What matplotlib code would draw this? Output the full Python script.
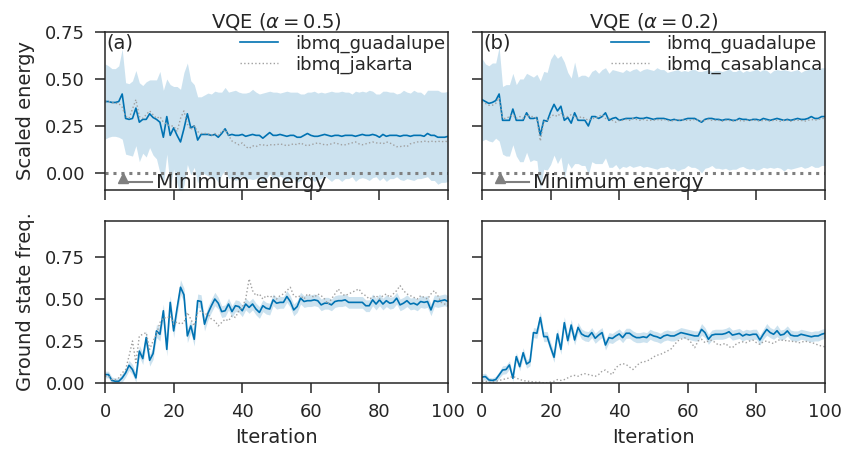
import matplotlib
import matplotlib.pyplot as plt
import numpy as np

matplotlib.use('Agg')

iterations = np.arange(101)

# scaled energy, alpha = 0.5
energy_guadalupe_a = [
    0.38, 0.38, 0.375, 0.375, 0.38, 0.42, 0.29, 0.285, 0.29, 0.345,
    0.27, 0.285, 0.285, 0.315, 0.295, 0.285, 0.27, 0.19, 0.30, 0.20,
    0.24, 0.20, 0.165, 0.235, 0.315, 0.24, 0.25, 0.175, 0.205, 0.205,
    0.205, 0.20, 0.205, 0.19, 0.21, 0.235, 0.20, 0.205, 0.20, 0.20,
    0.205, 0.195, 0.20, 0.205, 0.20, 0.20, 0.185, 0.20, 0.215, 0.20,
    0.20, 0.205, 0.20, 0.195, 0.20, 0.20, 0.19, 0.19, 0.20, 0.21,
    0.20, 0.195, 0.195, 0.20, 0.205, 0.20, 0.195, 0.20, 0.20, 0.195,
    0.20, 0.20, 0.20, 0.195, 0.20, 0.205, 0.20, 0.20, 0.205, 0.20,
    0.19, 0.205, 0.195, 0.20, 0.20, 0.20, 0.195, 0.20, 0.20, 0.195,
    0.20, 0.20, 0.20, 0.195, 0.21, 0.20, 0.20, 0.19, 0.19, 0.19,
    0.195]
energy_std_a = [
    0.20, 0.19, 0.18, 0.18, 0.19, 0.24, 0.19, 0.19, 0.20, 0.20,
    0.21, 0.18, 0.20, 0.18, 0.20, 0.21, 0.27, 0.25, 0.20, 0.27,
    0.22, 0.26, 0.28, 0.30, 0.27, 0.25, 0.22, 0.23, 0.20, 0.21,
    0.22, 0.22, 0.23, 0.24, 0.22, 0.22, 0.23, 0.23, 0.24, 0.23,
    0.22, 0.23, 0.23, 0.24, 0.23, 0.22, 0.24, 0.23, 0.22, 0.23,
    0.23, 0.22, 0.23, 0.24, 0.23, 0.23, 0.24, 0.23, 0.22, 0.22,
    0.23, 0.24, 0.23, 0.23, 0.22, 0.23, 0.24, 0.23, 0.23, 0.24,
    0.23, 0.23, 0.22, 0.24, 0.23, 0.23, 0.23, 0.24, 0.23, 0.22,
    0.23, 0.23, 0.24, 0.23, 0.23, 0.22, 0.23, 0.24, 0.23, 0.23,
    0.24, 0.23, 0.23, 0.22, 0.23, 0.24, 0.24, 0.25, 0.24, 0.24,
    0.24]
energy_jakarta = [
    0.38, 0.38, 0.375, 0.37, 0.37, 0.35, 0.30, 0.29, 0.34, 0.39,
    0.30, 0.29, 0.31, 0.33, 0.31, 0.29, 0.30, 0.27, 0.26, 0.25,
    0.25, 0.22, 0.29, 0.33, 0.26, 0.23, 0.25, 0.22, 0.21, 0.21,
    0.21, 0.20, 0.21, 0.20, 0.22, 0.23, 0.20, 0.17, 0.16, 0.15,
    0.16, 0.14, 0.13, 0.145, 0.14, 0.15, 0.15, 0.145, 0.15, 0.15,
    0.15, 0.155, 0.15, 0.145, 0.15, 0.155, 0.15, 0.16, 0.15, 0.145,
    0.15, 0.155, 0.16, 0.155, 0.15, 0.15, 0.155, 0.16, 0.155, 0.15,
    0.15, 0.155, 0.16, 0.165, 0.155, 0.15, 0.155, 0.16, 0.165, 0.16,
    0.16, 0.155, 0.165, 0.16, 0.15, 0.14, 0.14, 0.145, 0.14, 0.155,
    0.16, 0.165, 0.165, 0.17, 0.165, 0.17, 0.165, 0.17, 0.165, 0.17,
    0.165]

# scaled energy, alpha = 0.2
energy_guadalupe_b = [
    0.39, 0.38, 0.37, 0.375, 0.385, 0.42, 0.28, 0.28, 0.28, 0.34,
    0.28, 0.28, 0.28, 0.32, 0.29, 0.29, 0.295, 0.20, 0.28, 0.275,
    0.325, 0.365, 0.33, 0.355, 0.28, 0.295, 0.265, 0.32, 0.28, 0.28,
    0.28, 0.25, 0.30, 0.30, 0.29, 0.30, 0.32, 0.28, 0.29, 0.295,
    0.28, 0.285, 0.29, 0.29, 0.29, 0.295, 0.29, 0.29, 0.295, 0.29,
    0.285, 0.29, 0.29, 0.29, 0.285, 0.28, 0.285, 0.28, 0.28, 0.285,
    0.29, 0.29, 0.29, 0.28, 0.27, 0.285, 0.29, 0.29, 0.285, 0.285,
    0.28, 0.285, 0.285, 0.28, 0.28, 0.29, 0.285, 0.285, 0.28, 0.285,
    0.285, 0.28, 0.29, 0.285, 0.28, 0.285, 0.29, 0.285, 0.28, 0.285,
    0.28, 0.285, 0.29, 0.285, 0.285, 0.29, 0.30, 0.29, 0.29, 0.30,
    0.30]
energy_std_b = [
    0.22, 0.20, 0.20, 0.21, 0.20, 0.25, 0.18, 0.19, 0.19, 0.19,
    0.19, 0.22, 0.22, 0.21, 0.23, 0.22, 0.23, 0.29, 0.26, 0.26,
    0.28, 0.27, 0.28, 0.27, 0.31, 0.24, 0.24, 0.27, 0.23, 0.24,
    0.24, 0.26, 0.24, 0.25, 0.24, 0.25, 0.24, 0.25, 0.26, 0.25,
    0.26, 0.25, 0.26, 0.25, 0.26, 0.26, 0.25, 0.26, 0.26, 0.26,
    0.26, 0.27, 0.26, 0.26, 0.25, 0.26, 0.26, 0.27, 0.26, 0.26,
    0.25, 0.26, 0.26, 0.26, 0.27, 0.26, 0.26, 0.25, 0.26, 0.26,
    0.26, 0.26, 0.27, 0.26, 0.26, 0.26, 0.25, 0.26, 0.26, 0.26,
    0.27, 0.26, 0.26, 0.26, 0.25, 0.26, 0.26, 0.26, 0.27, 0.26,
    0.26, 0.26, 0.26, 0.25, 0.26, 0.26, 0.26, 0.26, 0.26, 0.26,
    0.26]
energy_casablanca = [
    0.38, 0.37, 0.36, 0.36, 0.37, 0.40, 0.29, 0.29, 0.30, 0.31,
    0.29, 0.30, 0.29, 0.31, 0.30, 0.30, 0.29, 0.17, 0.27, 0.28,
    0.30, 0.31, 0.30, 0.32, 0.30, 0.30, 0.31, 0.30, 0.29, 0.30,
    0.29, 0.28, 0.29, 0.29, 0.30, 0.31, 0.29, 0.29, 0.28, 0.27,
    0.28, 0.28, 0.285, 0.28, 0.29, 0.285, 0.28, 0.285, 0.28, 0.28,
    0.28, 0.285, 0.28, 0.285, 0.28, 0.275, 0.28, 0.28, 0.285, 0.28,
    0.28, 0.28, 0.285, 0.28, 0.275, 0.28, 0.285, 0.28, 0.28, 0.28,
    0.275, 0.28, 0.28, 0.275, 0.28, 0.28, 0.275, 0.28, 0.28, 0.28,
    0.28, 0.275, 0.28, 0.28, 0.275, 0.28, 0.28, 0.275, 0.28, 0.28,
    0.275, 0.28, 0.28, 0.28, 0.275, 0.28, 0.285, 0.28, 0.285, 0.29,
    0.29]

# ground state frequency, alpha = 0.5
freq_guadalupe_a = [
    0.05, 0.05, 0.015, 0.01, 0.01, 0.03, 0.06, 0.105, 0.08, 0.03,
    0.19, 0.145, 0.27, 0.135, 0.175, 0.31, 0.29, 0.43, 0.20, 0.48,
    0.31, 0.445, 0.57, 0.525, 0.28, 0.34, 0.26, 0.49, 0.485, 0.35,
    0.415, 0.46, 0.50, 0.475, 0.425, 0.43, 0.47, 0.425, 0.46, 0.455,
    0.43, 0.47, 0.45, 0.47, 0.44, 0.42, 0.46, 0.445, 0.44, 0.495,
    0.475, 0.48, 0.48, 0.515, 0.485, 0.435, 0.455, 0.505, 0.485, 0.49,
    0.49, 0.495, 0.49, 0.465, 0.475, 0.475, 0.465, 0.485, 0.49, 0.49,
    0.495, 0.48, 0.48, 0.48, 0.48, 0.48, 0.46, 0.46, 0.495, 0.47,
    0.495, 0.47, 0.49, 0.475, 0.48, 0.505, 0.465, 0.475, 0.49, 0.47,
    0.475, 0.465, 0.485, 0.48, 0.485, 0.435, 0.49, 0.485, 0.49, 0.495,
    0.485]
freq_std_a = [
    0.02, 0.02, 0.02, 0.02, 0.02, 0.025, 0.025, 0.03, 0.03, 0.025,
    0.035, 0.035, 0.04, 0.035, 0.035, 0.04, 0.04, 0.04, 0.04, 0.04,
    0.04, 0.04, 0.045, 0.04, 0.04, 0.04, 0.04, 0.04, 0.04, 0.04,
    0.04, 0.04, 0.04, 0.035, 0.035, 0.035, 0.035, 0.035, 0.035, 0.035,
    0.035, 0.035, 0.035, 0.035, 0.035, 0.035, 0.035, 0.035, 0.035, 0.035,
    0.035, 0.035, 0.035, 0.035, 0.035, 0.035, 0.035, 0.035, 0.035, 0.035,
    0.035, 0.035, 0.035, 0.035, 0.035, 0.035, 0.035, 0.035, 0.035, 0.035,
    0.035, 0.035, 0.035, 0.035, 0.035, 0.035, 0.035, 0.035, 0.035, 0.035,
    0.035, 0.035, 0.035, 0.035, 0.035, 0.035, 0.035, 0.035, 0.035, 0.035,
    0.035, 0.035, 0.035, 0.035, 0.035, 0.035, 0.035, 0.035, 0.035, 0.035,
    0.035]
freq_jakarta = [
    0.04, 0.04, 0.02, 0.02, 0.03, 0.06, 0.08, 0.16, 0.25, 0.12,
    0.28, 0.29, 0.30, 0.20, 0.25, 0.29, 0.36, 0.39, 0.385, 0.40,
    0.35, 0.365, 0.35, 0.36, 0.42, 0.38, 0.34, 0.42, 0.43, 0.41,
    0.41, 0.38, 0.37, 0.34, 0.36, 0.38, 0.37, 0.40, 0.39, 0.43,
    0.45, 0.50, 0.62, 0.55, 0.52, 0.53, 0.50, 0.52, 0.51, 0.52,
    0.50, 0.52, 0.53, 0.55, 0.57, 0.52, 0.51, 0.52, 0.50, 0.53,
    0.52, 0.51, 0.53, 0.52, 0.50, 0.47, 0.50, 0.53, 0.56, 0.53,
    0.52, 0.53, 0.54, 0.55, 0.56, 0.53, 0.52, 0.50, 0.51, 0.52,
    0.50, 0.52, 0.53, 0.51, 0.53, 0.55, 0.58, 0.55, 0.53, 0.52,
    0.51, 0.50, 0.52, 0.51, 0.50, 0.53, 0.55, 0.52, 0.48, 0.47,
    0.46]

# ground state frequency, alpha = 0.2
freq_guadalupe_b = [
    0.035, 0.038, 0.018, 0.015, 0.02, 0.048, 0.077, 0.08, 0.107, 0.028,
    0.157, 0.097, 0.18, 0.113, 0.127, 0.30, 0.296, 0.39, 0.276, 0.276,
    0.212, 0.153, 0.292, 0.20, 0.359, 0.252, 0.345, 0.256, 0.331, 0.292,
    0.28, 0.276, 0.30, 0.266, 0.285, 0.30, 0.226, 0.27, 0.265, 0.28,
    0.292, 0.27, 0.296, 0.296, 0.28, 0.27, 0.27, 0.275, 0.27, 0.29,
    0.28, 0.275, 0.266, 0.28, 0.286, 0.28, 0.28, 0.29, 0.30, 0.295,
    0.29, 0.285, 0.28, 0.28, 0.319, 0.30, 0.26, 0.285, 0.29, 0.29,
    0.29, 0.295, 0.305, 0.285, 0.29, 0.295, 0.28, 0.29, 0.285, 0.29,
    0.29, 0.256, 0.29, 0.319, 0.30, 0.29, 0.311, 0.285, 0.29, 0.31,
    0.285, 0.28, 0.28, 0.29, 0.285, 0.28, 0.275, 0.28, 0.28, 0.29,
    0.296]
freq_std_b = [
    0.02, 0.02, 0.015, 0.015, 0.02, 0.02, 0.025, 0.025, 0.025, 0.02,
    0.025, 0.025, 0.03, 0.025, 0.025, 0.03, 0.03, 0.035, 0.03, 0.03,
    0.03, 0.03, 0.03, 0.03, 0.035, 0.03, 0.035, 0.03, 0.03, 0.03,
    0.03, 0.03, 0.03, 0.03, 0.03, 0.03, 0.03, 0.03, 0.03, 0.03,
    0.03, 0.03, 0.03, 0.03, 0.03, 0.03, 0.03, 0.03, 0.03, 0.03,
    0.03, 0.03, 0.03, 0.03, 0.03, 0.03, 0.03, 0.03, 0.03, 0.03,
    0.03, 0.03, 0.03, 0.03, 0.035, 0.03, 0.03, 0.03, 0.03, 0.03,
    0.03, 0.03, 0.03, 0.03, 0.03, 0.03, 0.03, 0.03, 0.03, 0.03,
    0.03, 0.03, 0.03, 0.035, 0.03, 0.03, 0.035, 0.03, 0.03, 0.03,
    0.03, 0.03, 0.03, 0.03, 0.03, 0.03, 0.03, 0.03, 0.03, 0.03,
    0.03]
freq_casablanca = [
    0.01, 0.01, 0.005, 0.005, 0.01, 0.015, 0.02, 0.025, 0.03, 0.04,
    0.03, 0.02, 0.015, 0.01, 0.01, 0.005, 0.005, 0.005, 0.0, 0.0,
    0.005, 0.01, 0.02, 0.015, 0.02, 0.03, 0.04, 0.045, 0.04, 0.05,
    0.055, 0.05, 0.045, 0.04, 0.05, 0.07, 0.077, 0.06, 0.05, 0.09,
    0.107, 0.115, 0.11, 0.095, 0.08, 0.10, 0.12, 0.125, 0.13, 0.14,
    0.155, 0.165, 0.17, 0.18, 0.19, 0.20, 0.225, 0.25, 0.26, 0.27,
    0.26, 0.24, 0.21, 0.25, 0.26, 0.24, 0.25, 0.255, 0.24, 0.225,
    0.23, 0.235, 0.215, 0.21, 0.23, 0.24, 0.245, 0.24, 0.25, 0.255,
    0.24, 0.23, 0.245, 0.25, 0.24, 0.235, 0.25, 0.26, 0.25, 0.255,
    0.245, 0.25, 0.24, 0.24, 0.25, 0.245, 0.24, 0.235, 0.225, 0.22,
    0.215]

titles = [r'VQE ($\alpha = 0.5$)', r'VQE ($\alpha = 0.2$)']
panel_tags = ['(a)', '(b)']
other_devices = ['ibmq_jakarta', 'ibmq_casablanca']

BLUE = '#0072B2'
GREY = '#a0a0a0'
INK = '#262626'

plt.rcParams.update({
    'font.family': 'DejaVu Sans',
    'font.size': 13,
    'text.color': INK,
    'axes.labelcolor': INK,
    'axes.edgecolor': INK,
    'axes.linewidth': 1.1,
    'xtick.color': INK,
    'ytick.color': INK,
    'xtick.major.size': 7.5,
    'ytick.major.size': 7.5,
    'xtick.major.width': 1.1,
    'ytick.major.width': 1.1,
    'xtick.major.pad': 7,
    'ytick.major.pad': 7,
    'xtick.labelsize': 13,
    'ytick.labelsize': 13,
    'mathtext.fontset': 'dejavusans',
})

fig = plt.figure(figsize=(8.45, 4.5), dpi=100)
lefts = [0.1243, 0.5704]
width = 0.406
top_axes = [fig.add_axes([l, 0.578, width, 0.351]) for l in lefts]
bottom_axes = [fig.add_axes([l, 0.149, width, 0.360]) for l in lefts]


def draw_series(ax, mean, spread, other, other_label):
    mean = np.asarray(mean)
    spread = np.asarray(spread)
    ax.fill_between(iterations, mean - spread, mean + spread, color=BLUE, alpha=0.2, linewidth=0)
    ax.plot(iterations, mean, color=BLUE, lw=1.2, label='ibmq_guadalupe')
    ax.plot(iterations, other, color=GREY, lw=1.0, ls=':', label=other_label)


energy_sets = [(energy_guadalupe_a, energy_std_a, energy_jakarta),
               (energy_guadalupe_b, energy_std_b, energy_casablanca)]
freq_sets = [(freq_guadalupe_a, freq_std_a, freq_jakarta),
             (freq_guadalupe_b, freq_std_b, freq_casablanca)]

for i, ax in enumerate(top_axes):
    mean, spread, other = energy_sets[i]
    draw_series(ax, mean, spread, other, other_devices[i])
    ax.axhline(0.0, color='#7f7f7f', lw=2.2, ls=(0, (1, 1.6)), zorder=1)
    ax.set_xlim(0, 100)
    ax.set_ylim(-0.09, 0.75)
    ax.set_yticks([0.0, 0.25, 0.5, 0.75])
    ax.set_xticks(np.arange(0, 101, 20))
    ax.set_xticklabels([])
    ax.set_title(titles[i], fontsize=14, pad=3)
    ax.text(0.004, 0.99, panel_tags[i], transform=ax.transAxes, ha='left', va='top', fontsize=14)
    ax.legend(loc='upper right', frameon=False, fontsize=13, handlelength=2.1,
              borderaxespad=0.05, borderpad=0.1, labelspacing=0.15, handletextpad=0.95)
    # marker for the minimum energy reference level
    ax.plot([0.06, 0.137], [0.05, 0.05], transform=ax.transAxes, color='#7f7f7f', lw=1.5,
            clip_on=False)
    ax.plot([0.052], [0.075], transform=ax.transAxes, color='#7f7f7f', marker='^',
            markersize=7, clip_on=False)
    ax.text(0.15, 0.015, 'Minimum energy', transform=ax.transAxes, ha='left', va='baseline',
            fontsize=14.5, clip_on=False)
    if i == 0:
        ax.set_ylabel('Scaled energy', fontsize=14, labelpad=7)
        ax.set_yticklabels(['0.00', '0.25', '0.50', '0.75'])
    else:
        ax.set_yticklabels([])

for i, ax in enumerate(bottom_axes):
    mean, spread, other = freq_sets[i]
    draw_series(ax, mean, spread, other, other_devices[i])
    ax.set_xlim(0, 100)
    ax.set_ylim(0, 0.965)
    ax.set_yticks([0.0, 0.25, 0.5, 0.75])
    ax.set_xticks(np.arange(0, 101, 20))
    ax.set_xlabel('Iteration', fontsize=14, labelpad=5)
    if i == 0:
        ax.set_ylabel('Ground state freq.', fontsize=14, labelpad=7)
        ax.set_yticklabels(['0.00', '0.25', '0.50', '0.75'])
    else:
        ax.set_yticklabels([])

fig.savefig('out.png', dpi=100)
plt.close(fig)
